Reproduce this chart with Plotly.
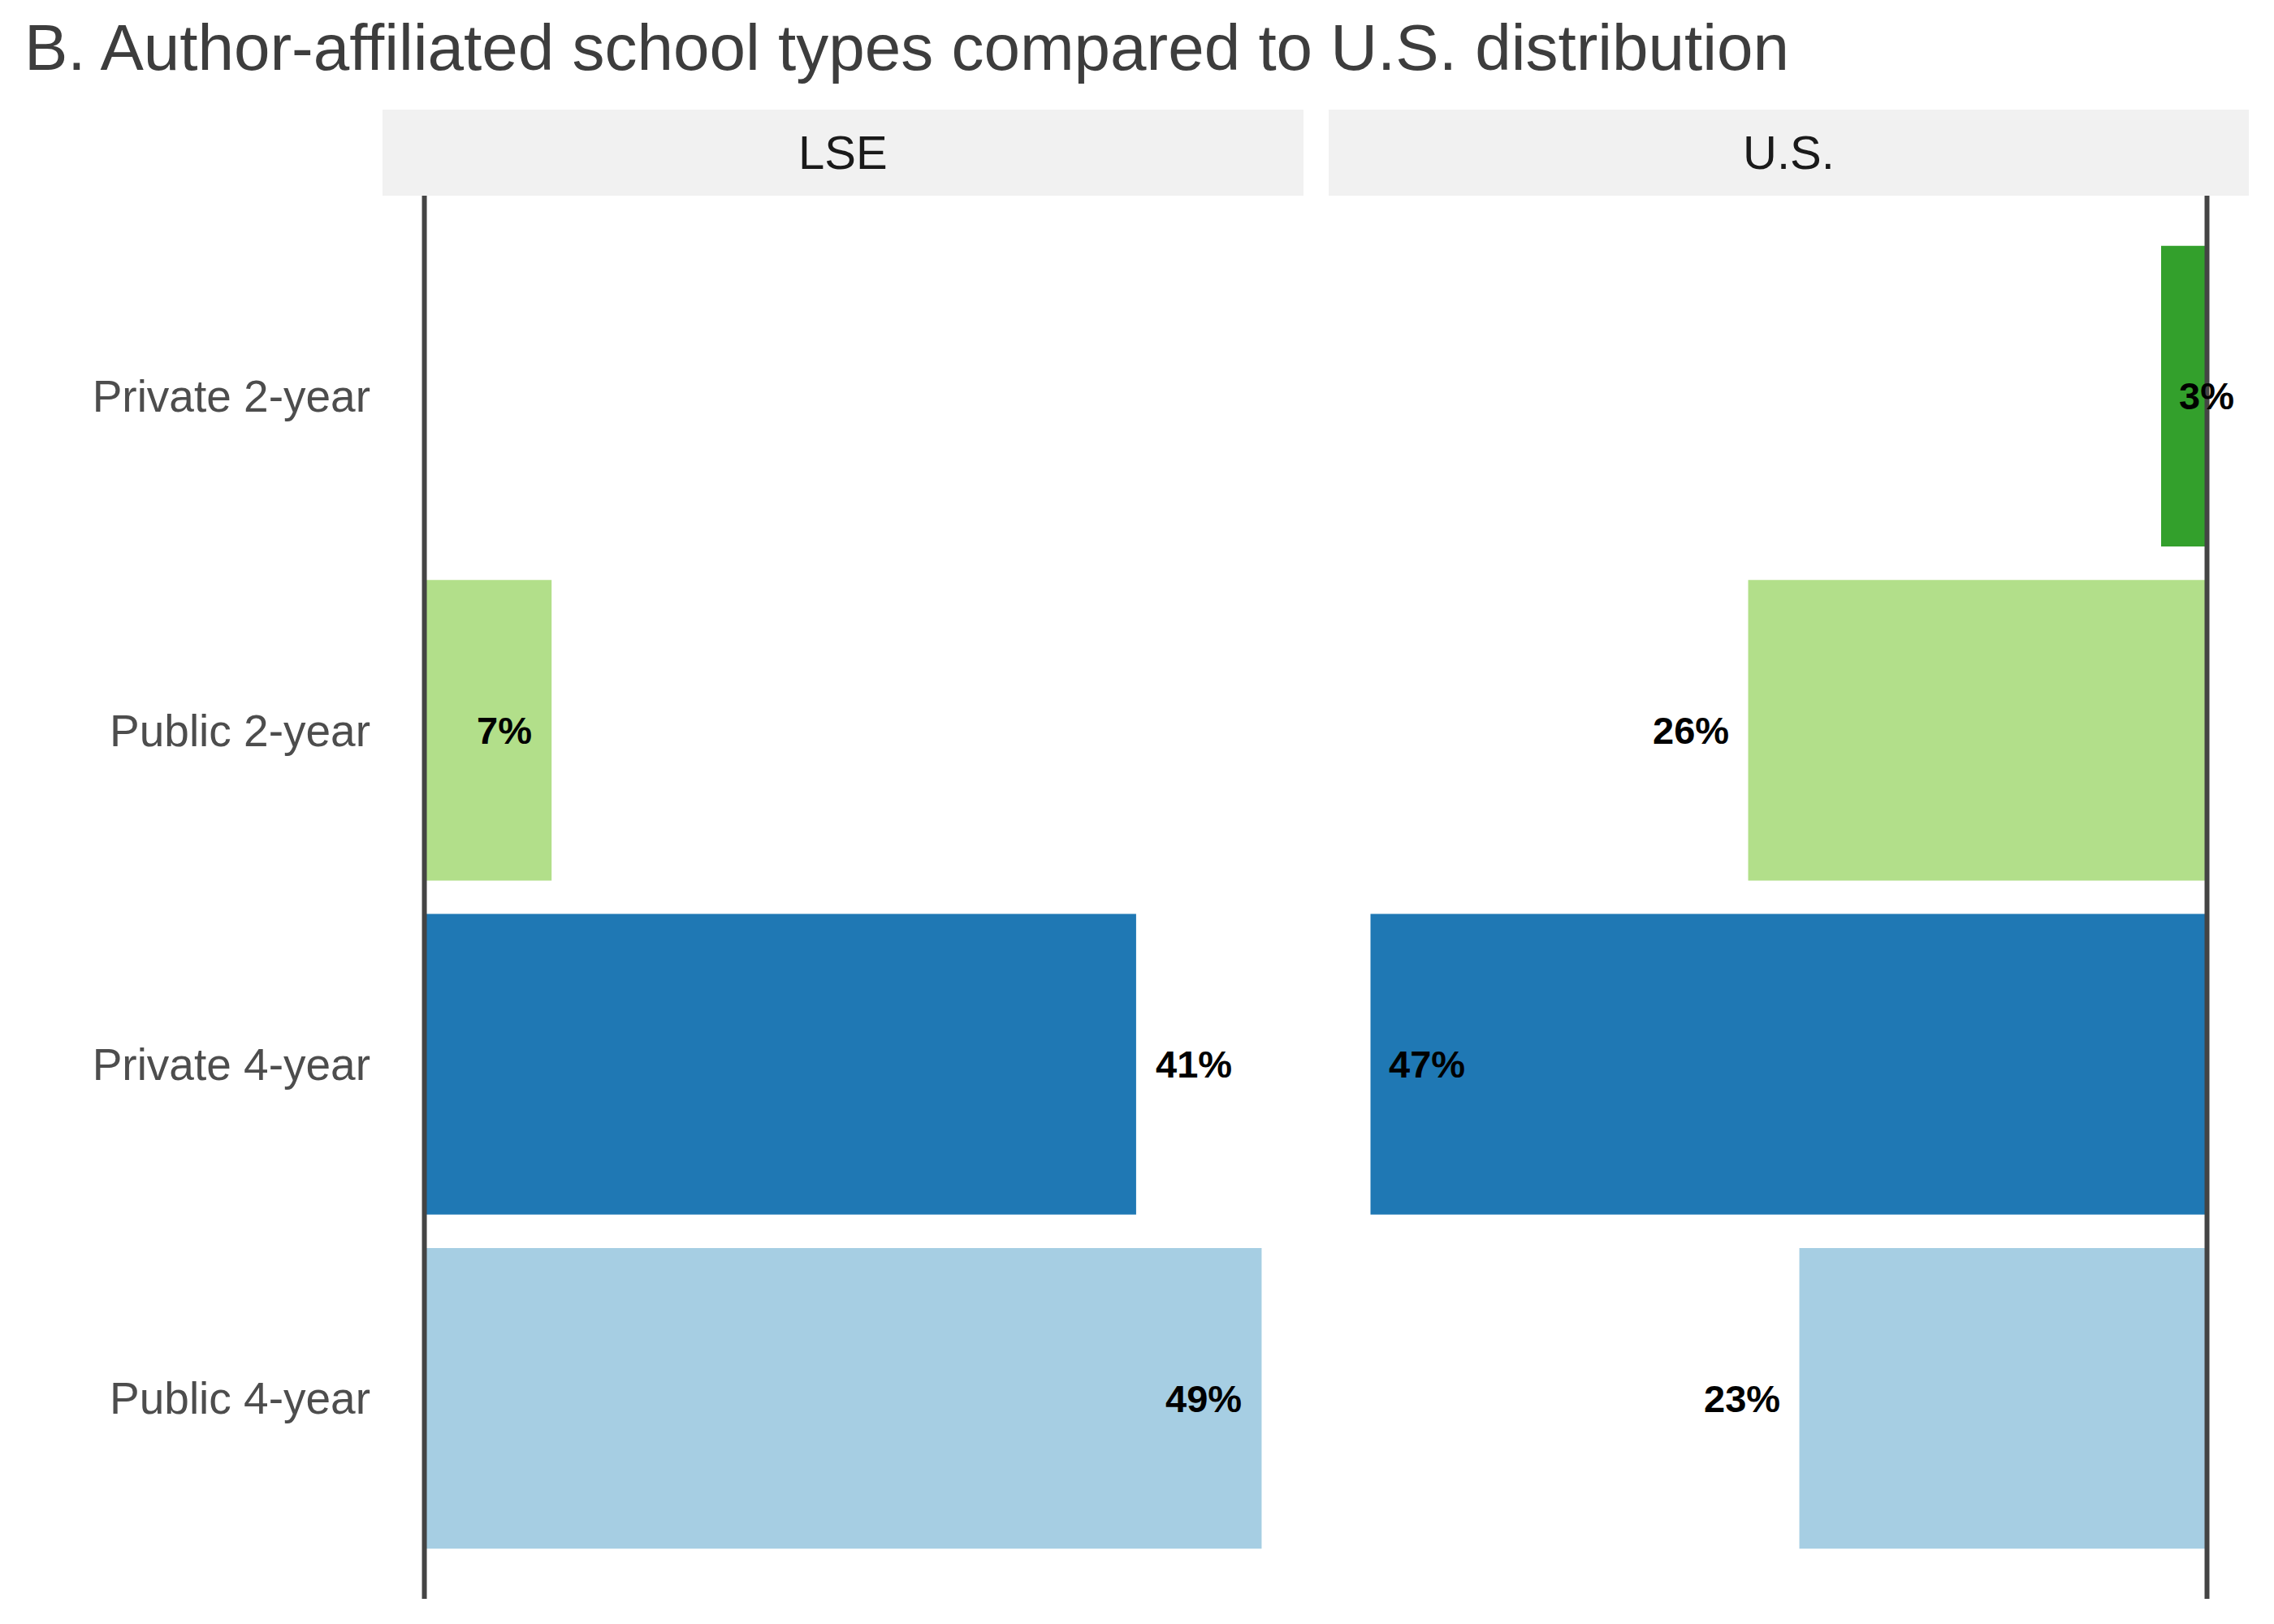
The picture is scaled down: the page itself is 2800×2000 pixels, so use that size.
import plotly.graph_objects as go

# ---------------- data ----------------
categories = ["Private 2-year", "Public 2-year", "Private 4-year", "Public 4-year"]
panels = ["LSE", "U.S."]
lse_values = [0.0, 7.4, 41.4, 48.7]
us_values = [2.6, 26.0, 47.4, 23.1]
lse_labels = ["", "7%", "41%", "49%"]
us_labels = ["3%", "26%", "47%", "23%"]

# ---------------- style ----------------
colors = ["#33a02c", "#b2df8a", "#1f78b4", "#a6cee3"]
lse_label_side = ["inside", "inside", "outside", "inside"]
us_label_side = ["inside", "outside", "inside", "outside"]

W, H = 2800, 2000
OFF = 8  # page body margin
FONT = "Liberation Sans, Arial, Helvetica, sans-serif"

def px_x(p):
    return (p - OFF) / W

def px_y(p):
    return 1 - (p - OFF) / H

panel_x = [(471, 1605), (1636, 2769)]
panel_y = (241, 1969)
strip_y = (135, 241)

fig = go.Figure()

fig.add_trace(go.Bar(
    x=lse_values, y=categories, orientation="h", width=0.9,
    marker=dict(color=colors, line=dict(width=0)),
    xaxis="x", yaxis="y", hoverinfo="skip", showlegend=False,
))
fig.add_trace(go.Bar(
    x=us_values, y=categories, orientation="h", width=0.9,
    marker=dict(color=colors, line=dict(width=0)),
    xaxis="x2", yaxis="y2", hoverinfo="skip", showlegend=False,
))

lse_max = max(lse_values)
us_max = max(us_values)

common_x = dict(showgrid=False, zeroline=False, showticklabels=False,
                ticks="", showline=False, fixedrange=True)

ydom = [px_y(panel_y[1]), px_y(panel_y[0])]

fig.update_layout(
    width=W, height=H,
    margin=dict(l=0, r=0, t=0, b=0),
    paper_bgcolor="white", plot_bgcolor="white",
    bargap=0.1,
    xaxis=dict(domain=[px_x(panel_x[0][0]), px_x(panel_x[0][1])],
               range=[-0.05 * lse_max, 1.05 * lse_max], anchor="y", **common_x),
    xaxis2=dict(domain=[px_x(panel_x[1][0]), px_x(panel_x[1][1])],
                range=[1.05 * us_max, -0.05 * us_max], anchor="y2", **common_x),
    yaxis=dict(domain=ydom, type="category", categoryorder="array",
               categoryarray=categories, range=[3.6, -0.6],
               showgrid=False, zeroline=False, ticks="", showline=False,
               tickfont=dict(family=FONT, size=55, color="#4d4d4d"),
               ticklabelstandoff=14, anchor="x"),
    yaxis2=dict(domain=ydom, type="category", categoryorder="array",
                categoryarray=categories, range=[3.6, -0.6], matches="y",
                showgrid=False, zeroline=False, ticks="", showline=False,
                showticklabels=False, anchor="x2"),
    showlegend=False,
)

shapes = []
annotations = []

# facet strips
for (x0, x1), name in zip(panel_x, panels):
    shapes.append(dict(type="rect", xref="paper", yref="paper",
                       x0=px_x(x0), x1=px_x(x1),
                       y0=px_y(strip_y[1]), y1=px_y(strip_y[0]),
                       fillcolor="#f1f1f1", line=dict(width=0), layer="below"))
    annotations.append(dict(text=name, xref="paper", yref="paper",
                            x=px_x((x0 + x1) / 2), y=px_y((strip_y[0] + strip_y[1]) / 2),
                            xanchor="center", yanchor="middle", showarrow=False,
                            font=dict(family=FONT, size=58, color="#1a1a1a")))

# zero lines
for xr in ["x", "x2"]:
    shapes.append(dict(type="line", xref=xr, yref=("y domain" if xr == "x" else "y2 domain"),
                       x0=0, x1=0, y0=0, y1=1,
                       line=dict(color="#444444", width=6), layer="above"))

# bar labels
def add_labels(vals, labels, sides, xr, yr, reversed_axis):
    for cat, v, lab, side in zip(categories, vals, labels, sides):
        if not lab:
            continue
        if not reversed_axis:
            anchor = "right" if side == "inside" else "left"
            shift = -22 if side == "inside" else 22
        else:
            anchor = "left" if side == "inside" else "right"
            shift = 20 if side == "inside" else -22
        annotations.append(dict(text="<b>" + lab + "</b>", x=v, y=cat, xref=xr, yref=yr,
                                xanchor=anchor, yanchor="middle", xshift=shift,
                                showarrow=False,
                                font=dict(family=FONT, size=47, color="#000000")))

add_labels(lse_values, lse_labels, lse_label_side, "x", "y", False)
add_labels(us_values, us_labels, us_label_side, "x2", "y2", True)

# title
annotations.append(dict(text="B. Author-affiliated school types compared to U.S. distribution",
                        xref="paper", yref="paper", x=px_x(28), y=px_y(58),
                        xanchor="left", yanchor="middle", showarrow=False,
                        font=dict(family=FONT, size=80, color="#3d3d3d")))

fig.update_layout(shapes=shapes, annotations=annotations)

fig.write_html("out.html")
